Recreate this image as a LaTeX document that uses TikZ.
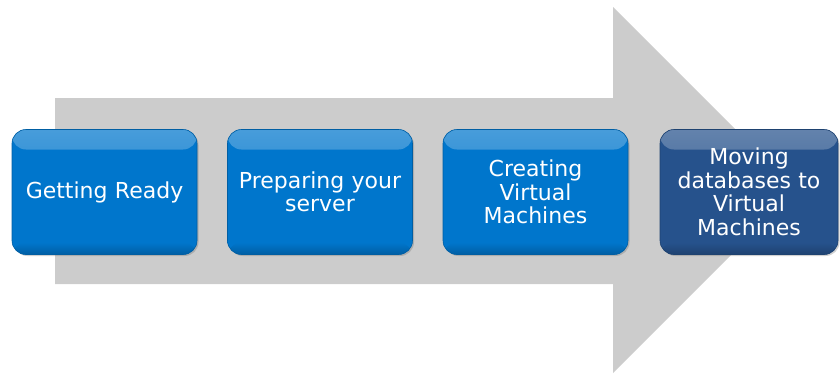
\documentclass[tikz,border=0pt]{standalone}
\usepackage{fontspec}
\setmainfont{DejaVu Sans}
\usetikzlibrary{shadows}
\definecolor{arrowgray}{RGB}{204,204,204}
\definecolor{stepblue}{RGB}{0,118,204}
\definecolor{stepnavy}{RGB}{38,82,140}
\tikzset{
  stepbox/.style={
    draw=#1!80!black, line width=0.6pt, fill=#1, rounded corners=14pt,
    minimum width=185pt, minimum height=125pt, text width=176pt,
    align=center, text=white, inner sep=0pt,
    font=\fontsize{22}{23.5}\selectfont,
    drop shadow={shadow xshift=1.5pt, shadow yshift=-1.5pt, opacity=0.3, fill=black!60},
    path picture={
      \shade[top color=white!28!#1, bottom color=#1]
        (path picture bounding box.north west) rectangle
        ([yshift=-20pt]path picture bounding box.north east);
      \shade[top color=#1, bottom color=#1!80!black]
        ([yshift=12pt]path picture bounding box.south west) rectangle
        (path picture bounding box.south east);
    }
  }
}
\begin{document}
\begin{tikzpicture}[x=1pt,y=-1pt]
\useasboundingbox (0,0) rectangle (840,375);
\fill[arrowgray] (55,98) -- (613,98) -- (613,7) -- (796,190) -- (613,373)
  -- (613,284) -- (55,284) -- cycle;
\node[stepbox=stepblue] (b1) at (104.5,192) {Getting Ready};
\node[stepbox=stepblue] (b2) at (320,192) {Preparing your\\server};
\node[stepbox=stepblue] (b3) at (535.5,192) {Creating\\Virtual\\Machines};
\node[stepbox=stepnavy, minimum width=178pt] (b4) at (749,192) {Moving\\databases to\\Virtual\\Machines};
\end{tikzpicture}
\end{document}
